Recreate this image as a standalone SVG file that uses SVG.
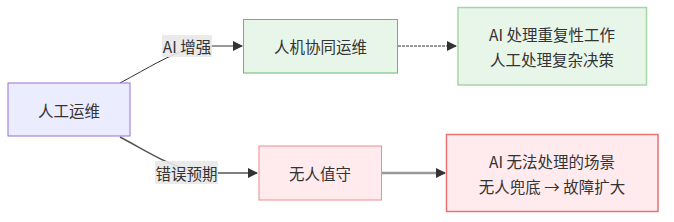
<svg xmlns="http://www.w3.org/2000/svg" width="674" height="222" viewBox="0 0 674 222">
<defs>
<style>
text{font-family:"Noto Sans CJK SC","Noto Sans",sans-serif;font-size:15.5px;fill:#333;text-anchor:middle;dominant-baseline:central}
.lbl{fill:#e8e8e8;opacity:0.9}
.e{fill:none;stroke:#333;stroke-width:1}
</style>
<marker id="arr" viewBox="0 0 10 10" refX="9" refY="5" markerWidth="10" markerHeight="10" markerUnits="userSpaceOnUse" orient="auto"><path d="M0,0 L10,5 L0,10 z" fill="#333"/></marker>
</defs>
<g id="connectors">
<path class="e" d="M120,83 C150,67 168,55 190,49 C198,47 205,46 215,46 L242,46" marker-end="url(#arr)"/>
<path class="e" d="M120,137 C150,153 168,165 190,170 C198,172 205,173 215,173 L257,173" style="stroke:#555;stroke-width:1.5" marker-end="url(#arr)"/>
<path class="e" d="M398,46 L456,46" stroke-dasharray="3,1" marker-end="url(#arr)"/>
<path class="e" d="M382,173 L445,173" style="stroke:#999;stroke-width:2.5" marker-end="url(#arr)"/>
<rect class="lbl" x="162" y="35" width="50" height="22"/>
<text x="187" y="46">AI 增强</text>
<rect class="lbl" x="155" y="161" width="63" height="23"/>
<text x="186.5" y="172.5">错误预期</text>
</g>
<g id="A">
<rect x="8" y="83" width="122" height="53" fill="#ececff" stroke="#9370db"/>
<text x="69" y="109.5">人工运维</text>
</g>
<g id="B">
<rect x="243.5" y="19.5" width="154" height="53.5" fill="#e8f5e9" stroke="#66bb6a"/>
<text x="320.5" y="46">人机协同运维</text>
</g>
<g id="C">
<rect x="458" y="7.5" width="188.5" height="77.5" fill="#e8f5e9" stroke="#a5d6a7" stroke-width="1.5"/>
<text x="552" y="34">AI 处理重复性工作</text>
<text x="552" y="59">人工处理复杂决策</text>
</g>
<g id="D">
<rect x="259" y="146" width="122.5" height="54" fill="#ffebee" stroke="#f28b8b"/>
<text x="320" y="172.5">无人值守</text>
</g>
<g id="E">
<rect x="446.5" y="134.5" width="211.5" height="77" fill="#ffebee" stroke="#e57373" stroke-width="1.5"/>
<text x="552" y="161">AI 无法处理的场景</text>
<text x="552" y="186">无人兜底 → 故障扩大</text>
</g>
</svg>
